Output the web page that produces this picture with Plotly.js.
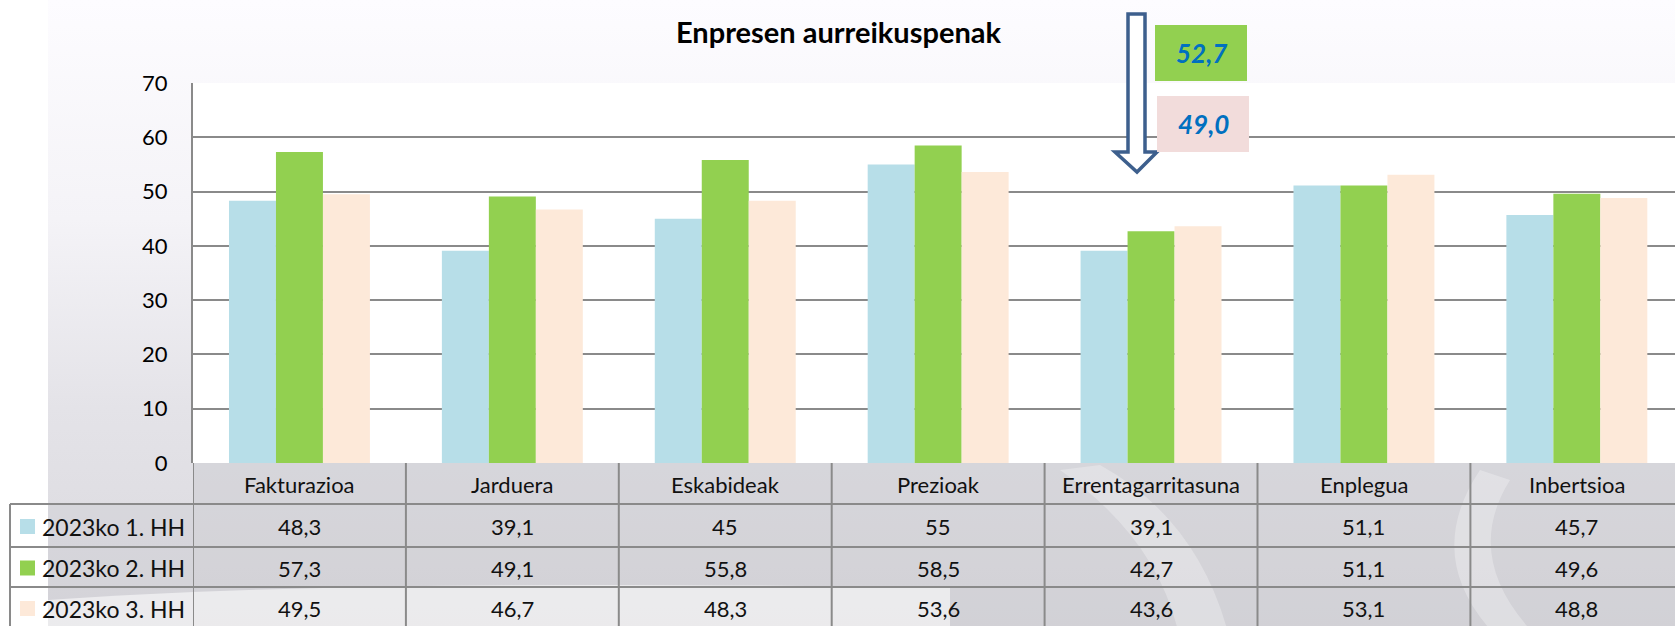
<!DOCTYPE html>
<html>
<head>
<meta charset="utf-8">
<script src="https://cdn.plot.ly/plotly-3.0.1.min.js"></script>
<style>
  html, body { margin: 0; padding: 0; background: #ffffff; }
  #chart {
    width: 1675px; height: 626px;
    background:
      linear-gradient(to right, #ffffff 0px, #ffffff 48px, rgba(255,255,255,0) 48px),
      linear-gradient(to bottom, #fdfcff 0%, #f4f3f7 35%, #e4e3e8 65%, #d9d8dd 100%);
  }
</style>
</head>
<body>
<div id="chart"></div>
<script>
// ---- data ----
const categories = ["Fakturazioa", "Jarduera", "Eskabideak", "Prezioak", "Errentagarritasuna", "Enplegua", "Inbertsioa"];
const seriesNames = ["2023ko 1. HH", "2023ko 2. HH", "2023ko 3. HH"];
const h1Values = [48.3, 39.1, 45, 55, 39.1, 51.1, 45.7];
const h2Values = [57.3, 49.1, 55.8, 58.5, 42.7, 51.1, 49.6];
const h3Values = [49.5, 46.7, 48.3, 53.6, 43.6, 53.1, 48.8];
const calloutValues = [52.7, 49.0];
const yTicks = [0, 10, 20, 30, 40, 50, 60, 70];

// ---- styling / layout constants ----
const W = 1675, H = 626;
const ML = 193, MT = 83, MB = 163;
const plotW = W - ML, plotH = H - MT - MB;
const catPx = 212.9;
const colors = ["#b7dee8", "#92d050", "#fde9d9"];
const FONT = "Lato, 'Open Sans', sans-serif";
const lineCol = "#8a8a8a";

const px2x = px => (px - ML) / plotW;          // paper x from pixel
const px2y = py => (H - MB - py) / plotH;      // paper y from pixel

const seriesValues = [h1Values, h2Values, h3Values];
const fmt = v => String(v).replace('.', ',');

const traces = seriesValues.map((vals, i) => ({
  type: 'bar',
  name: seriesNames[i],
  x: categories,
  y: vals,
  marker: { color: colors[i], line: { width: 0 } },
  hoverinfo: 'x+y+name'
}));

const shapes = [];
const annotations = [];
const P = (x, y) => `${px2x(x)},${px2y(y)}`;

// table rows (pixel y boundaries)
const rowTop = [463, 504, 547, 587];
const rowBot = [504, 547, 587, 640];

// table background fill
shapes.push({ type: 'rect', xref: 'paper', yref: 'paper', layer: 'below',
  x0: 0, x1: px2x(W + 20), y0: px2y(rowBot[3]), y1: px2y(rowTop[0]),
  fillcolor: 'rgba(200,199,205,0.42)', line: { width: 0 } });
shapes.push({ type: 'rect', xref: 'paper', yref: 'paper', layer: 'below',
  x0: px2x(48), x1: 0, y0: px2y(rowBot[3]), y1: px2y(rowTop[1]),
  fillcolor: 'rgba(200,199,205,0.30)', line: { width: 0 } });
// soft white swoosh (background decoration) in lower left
shapes.push({ type: 'path', xref: 'paper', yref: 'paper', layer: 'below',
  path: `M${P(48, 640)} L${P(48, 600)} Q${P(350, 578)} ${P(950, 588)} L${P(950, 640)} Z`,
  fillcolor: 'rgba(255,255,255,0.55)', line: { width: 0 } });
// faint watermark arcs on the right
shapes.push({ type: 'path', xref: 'paper', yref: 'paper', layer: 'below',
  path: `M${P(1060, 470)} Q${P(1160, 540)} ${P(1180, 640)} L${P(1230, 640)} Q${P(1200, 520)} ${P(1100, 465)} Z`,
  fillcolor: 'rgba(255,255,255,0.28)', line: { width: 0 } });
shapes.push({ type: 'path', xref: 'paper', yref: 'paper', layer: 'below',
  path: `M${P(1480, 470)} Q${P(1420, 560)} ${P(1500, 640)} L${P(1540, 640)} Q${P(1460, 560)} ${P(1510, 480)} Z`,
  fillcolor: 'rgba(255,255,255,0.28)', line: { width: 0 } });

// horizontal table lines
for (let r = 0; r < 3; r++) {
  const y = px2y(rowBot[r]);
  shapes.push({ type: 'line', xref: 'paper', yref: 'paper',
    x0: r === 0 ? 0 : px2x(10), x1: px2x(W + 20), y0: y, y1: y,
    line: { color: lineCol, width: 2 } });
}
// top of legend block
shapes.push({ type: 'line', xref: 'paper', yref: 'paper',
  x0: px2x(10), x1: 0, y0: px2y(rowTop[1]), y1: px2y(rowTop[1]),
  line: { color: lineCol, width: 2 } });
// vertical lines between categories
for (let k = 0; k <= categories.length; k++) {
  shapes.push({ type: 'line', xref: 'x', yref: 'paper',
    x0: k - 0.5, x1: k - 0.5, y0: px2y(rowBot[3]), y1: px2y(rowTop[0]),
    line: { color: lineCol, width: 2 } });
}
// legend column left border
shapes.push({ type: 'line', xref: 'paper', yref: 'paper',
  x0: px2x(10), x1: px2x(10), y0: px2y(rowBot[3]), y1: px2y(rowTop[1]),
  line: { color: lineCol, width: 2 } });

// header row: category names
categories.forEach(c => {
  annotations.push({ xref: 'x', yref: 'paper', x: c, y: px2y((rowTop[0] + rowBot[0]) / 2 + 1),
    text: c, showarrow: false, xanchor: 'center', yanchor: 'middle',
    font: { family: FONT, size: 22, color: '#111' } });
});
// value rows + legend column
seriesValues.forEach((vals, i) => {
  const yMid = (rowTop[i + 1] + Math.min(rowBot[i + 1], 628)) / 2 + 1;
  const yc = px2y(yMid);
  vals.forEach((v, j) => {
    annotations.push({ xref: 'x', yref: 'paper', x: categories[j], y: yc,
      text: fmt(v), showarrow: false, xanchor: 'center', yanchor: 'middle',
      font: { family: FONT, size: 22, color: '#111' } });
  });
  const sq = 15;
  shapes.push({ type: 'rect', xref: 'paper', yref: 'paper',
    x0: px2x(20), x1: px2x(20 + sq), y0: px2y(yMid + sq / 2), y1: px2y(yMid - sq / 2),
    fillcolor: colors[i], line: { width: 0 } });
  annotations.push({ xref: 'paper', yref: 'paper', x: px2x(40), y: yc,
    text: seriesNames[i], showarrow: false, xanchor: 'left', yanchor: 'middle',
    font: { family: FONT, size: 23, color: '#111' } });
});

// title
annotations.push({ xref: 'paper', yref: 'paper', x: px2x(838), y: px2y(32),
  text: '<b>Enpresen aurreikuspenak</b>', showarrow: false, xanchor: 'center', yanchor: 'middle',
  font: { family: FONT, size: 29, color: '#000' } });

// hollow down arrow
shapes.push({ type: 'path', xref: 'paper', yref: 'paper',
  path: `M${P(1128, 14)} L${P(1145, 14)} L${P(1145, 152)} L${P(1157, 152)} L${P(1137, 172)} L${P(1115, 152)} L${P(1128, 152)} Z`,
  fillcolor: '#ffffff', line: { color: '#3d5f8d', width: 3.5 } });

// callout boxes
const boxes = [
  { x0: 1155, x1: 1247, y0: 25, y1: 81, fill: '#92d050' },
  { x0: 1157, x1: 1249, y0: 96, y1: 152, fill: '#f2dcdb' }
];
boxes.forEach((b, i) => {
  shapes.push({ type: 'rect', xref: 'paper', yref: 'paper',
    x0: px2x(b.x0), x1: px2x(b.x1), y0: px2y(b.y1), y1: px2y(b.y0),
    fillcolor: b.fill, line: { width: 0 } });
  annotations.push({ xref: 'paper', yref: 'paper', x: px2x((b.x0 + b.x1) / 2), y: px2y((b.y0 + b.y1) / 2),
    text: '<b><i>' + calloutValues[i].toFixed(1).replace('.', ',') + '</i></b>', showarrow: false,
    xanchor: 'center', yanchor: 'middle',
    font: { family: FONT, size: 26, color: '#0070c0' } });
});

const layout = {
  width: W, height: H,
  margin: { l: ML, r: 0, t: MT, b: MB, pad: 0 },
  paper_bgcolor: 'rgba(0,0,0,0)',
  plot_bgcolor: '#ffffff',
  showlegend: false,
  barmode: 'group',
  bargap: 0.338,
  bargroupgap: 0,
  font: { family: FONT, color: '#000' },
  xaxis: {
    type: 'category',
    range: [-0.5, -0.5 + plotW / catPx],
    showticklabels: false, ticks: '',
    showgrid: false, zeroline: false,
    showline: false, fixedrange: true
  },
  yaxis: {
    range: [0, 70],
    tickvals: yTicks,
    ticktext: yTicks.map(String),
    ticks: 'outside', ticklen: 19, tickcolor: 'rgba(0,0,0,0)',
    tickfont: { family: FONT, size: 22, color: '#000' },
    showgrid: true, gridcolor: lineCol, gridwidth: 2,
    zeroline: false,
    showline: true, linecolor: lineCol, linewidth: 2,
    fixedrange: true
  },
  shapes: shapes,
  annotations: annotations
};

Plotly.newPlot('chart', traces, layout, { displayModeBar: false, staticPlot: true });
</script>
</body>
</html>
